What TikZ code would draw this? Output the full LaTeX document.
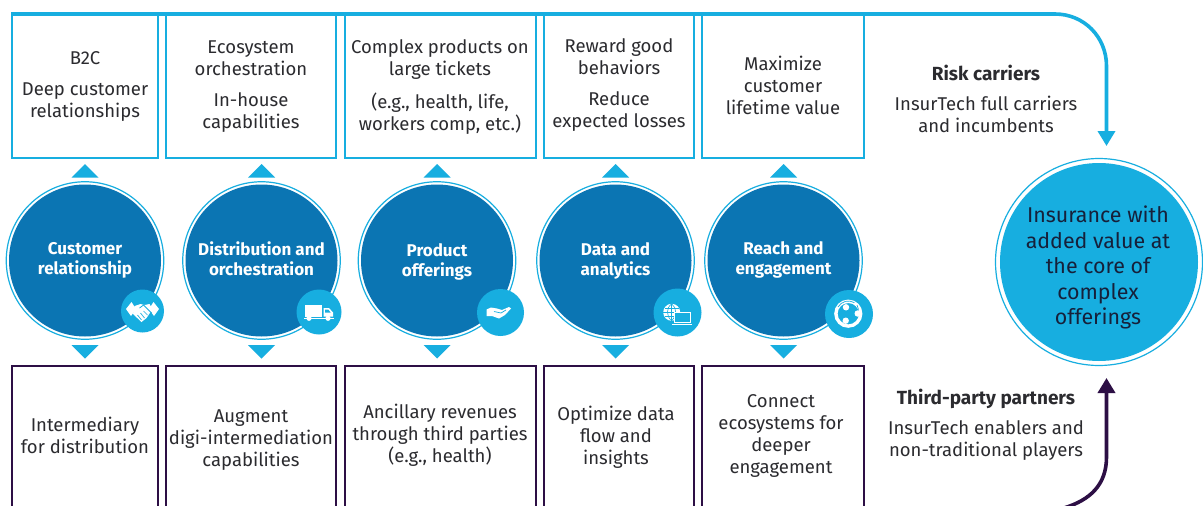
\documentclass[tikz,border=0pt]{standalone}
\usepackage{fontspec}
\setmainfont{Fira Sans}
\usetikzlibrary{arrows.meta}
\definecolor{cy}{HTML}{17AEE0}
\definecolor{db}{HTML}{0B75B3}
\definecolor{pu}{HTML}{2D0F45}
\definecolor{tx}{HTML}{2B2B2F}
\definecolor{bt}{HTML}{16203A}
\tikzset{
 topbox/.style={draw=cy,line width=2pt,fill=white},
 botbox/.style={draw=pu,line width=2.6pt,fill=white},
 ringc/.style={circle,draw=cy,line width=1.2pt,fill=white,inner sep=0pt,minimum size=157.5pt},
 discc/.style={circle,fill=db,inner sep=0pt,minimum size=152pt},
 iconc/.style={circle,fill=cy,inner sep=0pt},
 tri/.style={fill=cy},
 body/.style={inner sep=0pt,anchor=north,align=center,text=tx,font=\fontsize{18.5}{22}\selectfont},
 heading/.style={body,font=\fontsize{19}{22}\selectfont\bfseries},
 disclabel/.style={inner sep=0pt,anchor=north,align=center,text=white,font=\fontsize{17}{20}\selectfont\bfseries},
 biglabel/.style={inner sep=0pt,anchor=north,align=center,text=bt,font=\fontsize{21.4}{25.5}\selectfont},
}
\newcommand{\fs}{\rule{0pt}{14pt}}
% \tline{style}{name}{x}{first baseline y}{text}
\newcommand{\tline}[5]{\node[#1] (#2) at (#3,#4-14) {\fs #5};}
\newcommand{\hub}[2]{%
 \node[ringc] (#1o) at (#2,260.5) {};
 \node[discc] (#1) at (#2,260.5) {};
 \fill[tri] (#2-13.5,177.5) -- (#2,164) -- (#2+13.5,177.5) -- cycle;
 \fill[tri] (#2-13.5,345) -- (#2,358.5) -- (#2+13.5,345) -- cycle;
}
\begin{document}
\begin{tikzpicture}[x=1pt,y=-1pt]
\clip (0,0) rectangle (1203,506);
\fill[white] (0,0) rectangle (1203,506);
% top boxes
\draw[topbox] (12,14) rectangle (158,158);
\draw[topbox] (166,14) rectangle (336,158);
\draw[topbox] (345,14) rectangle (536,158);
\draw[topbox] (544,14) rectangle (694,158);
\draw[topbox] (702,14) rectangle (864,158);
% bottom boxes
\draw[botbox] (12,366) rectangle (158,520);
\draw[botbox] (166,366) rectangle (336,520);
\draw[botbox] (345,366) rectangle (536,520);
\draw[botbox] (544,366) rectangle (694,520);
\draw[botbox] (702,366) rectangle (864,520);
% hubs
\hub{c1}{85}
\hub{c2}{261.5}
\hub{c3}{437}
\hub{c4}{615.5}
\hub{c5}{783.5}
% big circle
\node[circle,draw=cy,line width=1.2pt,fill=white,inner sep=0pt,minimum size=207pt] (bigo) at (1099,262) {};
\node[circle,fill=cy,inner sep=0pt,minimum size=198pt] (big) at (1099,262) {};
% connectors
\coordinate (bs) at (11,14);
\coordinate (bt) at (1106.5,146);
\coordinate (ps) at (1064,508);
\coordinate (pt) at (1106.5,378);
\draw[cy,line width=3.6pt,-{Triangle[length=15pt,width=17pt]}] (bs) -- (1055,14) .. controls (1084,14) and (1106.5,37) .. (1106.5,66) -- (bt);
\draw[pu,line width=3.6pt,-{Triangle[length=15pt,width=17pt]}] (ps) .. controls (1090,500) and (1106.5,485) .. (1106.5,457) -- (pt);
% icon discs
\node[iconc,minimum size=43pt] (i1) at (142.5,311) {};
\node[iconc,minimum size=45pt] (i2) at (319,312) {};
\node[iconc,minimum size=47pt] (i3) at (500.5,312.5) {};
\node[iconc,minimum size=48pt] (i4) at (677.5,312.5) {};
\node[iconc,minimum size=48pt] (i5) at (849,314) {};
% handshake
\begin{scope}[shift={(142.5,311)}]
 \fill[white] (-16.5,-2) -- (-11,-9) -- (-6.5,-2) -- (-11.5,5) -- cycle;
 \fill[white] (16.5,-2) -- (11,-9) -- (6.5,-2) -- (11.5,5) -- cycle;
 \fill[white] (-8,-5) -- (-2,-7) -- (2,-6) -- (7,-7) -- (10,-2) -- (4,7) -- (-1,11) -- (-9.5,3) -- cycle;
 \draw[cy,line width=.8pt] (-3,-3) -- (1,-6) -- (9,2);
 \draw[cy,line width=.7pt] (-1,9) -- (-5,4) (2,7) -- (-2,2) (5,4) -- (1,0);
\end{scope}
% truck
\fill[white] (304.5,305) rectangle (322,316.5);
\fill[white] (323.5,308) -- (329,308) -- (333,312.5) -- (333,316.5) -- (323.5,316.5) -- cycle;
\fill[cy] (325.2,309.6) -- (328.3,309.6) -- (330.6,312.5) -- (325.2,312.5) -- cycle;
\draw[white,line width=.9pt] (304,318.3) -- (334,318.3);
\fill[white] (309,318.3) circle (2.6) (328,318.3) circle (2.6);
% hand
\fill[white] (486.5,309.5) -- (491,307.5) -- (497,308.5) -- (502,310) -- (509,307) -- (511,308.5) -- (505,315) -- (499,318.5) -- (492,316) -- (486.5,316) -- cycle;
\draw[cy,line width=.7pt] (494,311.5) -- (501,313) -- (506,310);
% globe and laptop
\fill[white] (671.7,312.3) circle (8.5);
\draw[cy,line width=.6pt] (671.7,303.8) -- (671.7,320.8) (663.2,312.3) -- (680.2,312.3) (664.5,308) -- (679,308) (664.5,316.6) -- (679,316.6);
\draw[cy,line width=.6pt] (671.7,303.8) .. controls (666,308) and (666,316) .. (671.7,320.8);
\draw[cy,line width=.6pt] (671.7,303.8) .. controls (677,308) and (677,316) .. (671.7,320.8);
\draw[white,line width=.9pt,fill=cy] (674.5,312) rectangle (690,322);
\draw[white,line width=.9pt] (672,324) -- (692,324);
% network ring
\draw[white,line width=3.4pt] (848.3,313.7) circle (12.4);
\draw[cy,line width=.7pt] (838,307) arc[start angle=210,end angle=300,radius=12];
\draw[cy,line width=.7pt] (857,305) arc[start angle=-30,end angle=60,radius=10];
\draw[cy,line width=.7pt] (851,323) arc[start angle=80,end angle=170,radius=10];
\fill[white] (846,307.3) circle (3.2) (857.7,313.5) circle (3.2) (845.7,320.7) circle (3.2);
% hub labels
\tline{disclabel}{l1}{85}{254}{Customer\\relationship}
\tline{disclabel}{l2}{261.5}{255}{Distribution and\\orchestration}
\tline{disclabel}{l3}{437}{256}{Product\\offerings}
\tline{disclabel}{l4}{615.5}{255}{Data and\\analytics}
\tline{disclabel}{l5}{783.5}{254}{Reach and\\engagement}
% top box text
\tline{body}{t1a}{85}{64}{B2C}
\tline{body}{t1b}{85}{95}{Deep customer\\relationships}
\tline{body}{t2a}{251}{53}{Ecosystem\\orchestration}
\tline{body}{t2b}{251}{106}{In-house\\capabilities}
\tline{body}{t3a}{440}{53}{Complex products on\\large tickets}
\tline{body}{t3b}{440}{107}{(e.g., health, life,\\workers comp, etc.)}
\tline{body}{t4a}{619}{52}{Reward good\\behaviors}
\tline{body}{t4b}{619}{105}{Reduce\\expected losses}
\tline{body}{t5a}{783}{70}{Maximize\\customer\\lifetime value}
% bottom box text
\tline{body}{b1}{85}{431}{Intermediary\\for distribution}
\tline{body}{b2}{251}{422}{Augment\\digi-intermediation\\capabilities}
\tline{body}{b3}{440}{418}{Ancillary revenues\\through third parties\\(e.g., health)}
\tline{body}{b4}{616}{420}{Optimize data\\flow and\\insights}
\tline{body}{b5}{781}{407}{Connect\\ecosystems for\\deeper\\engagement}
% side text
\tline{heading}{rc}{986}{79}{Risk carriers}
\tline{body}{rd}{986}{110}{InsurTech full carriers\\and incumbents}
\tline{heading}{tp}{986}{403}{Third-party partners}
\tline{body}{td}{986}{434}{InsurTech enablers and\\non-traditional players}
% big label
\tline{biglabel}{bl}{1098}{220}{Insurance with\\added value at\\the core of\\complex\\offerings}
\end{tikzpicture}
\end{document}
